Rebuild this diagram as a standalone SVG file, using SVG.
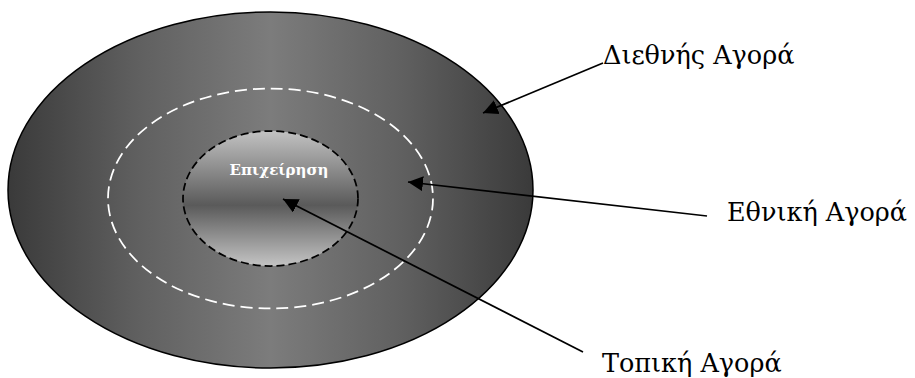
<svg xmlns="http://www.w3.org/2000/svg" width="915" height="378" viewBox="0 0 915 378">
  <style>
    .label { font-family: "DejaVu Serif", "Liberation Serif", serif; font-size: 25.5px; fill: #000; }
    .core { font-family: "DejaVu Serif", "Liberation Serif", serif; font-size: 15px; font-weight: bold; fill: #fff; }
    .conn { stroke: #000; stroke-width: 1.75; fill: none; marker-end: url(#arrow); }
  </style>
  <defs>
    <linearGradient id="gOuter" x1="0" y1="0" x2="1" y2="0">
      <stop offset="0" stop-color="#3a3a3a"/>
      <stop offset="0.25" stop-color="#606060"/>
      <stop offset="0.5" stop-color="#7c7c7c"/>
      <stop offset="0.75" stop-color="#606060"/>
      <stop offset="1" stop-color="#3a3a3a"/>
    </linearGradient>
    <linearGradient id="gInner" x1="0" y1="0" x2="0" y2="1">
      <stop offset="0" stop-color="#c2c2c2"/>
      <stop offset="0.55" stop-color="#5a5a5a"/>
      <stop offset="1" stop-color="#c4c4c4"/>
    </linearGradient>
    <marker id="arrow" markerUnits="userSpaceOnUse" markerWidth="16" markerHeight="16" refX="15" refY="7.5" orient="auto">
      <path d="M0,0 L15,7.5 L0,15 z" fill="#000"/>
    </marker>
  </defs>

  <g id="international-market">
    <ellipse cx="270.5" cy="190" rx="262.5" ry="178" fill="url(#gOuter)" stroke="#000" stroke-width="1.5"/>
  </g>
  <g id="national-market">
    <ellipse cx="270.5" cy="198.5" rx="162.5" ry="110" fill="none" stroke="#fff" stroke-width="1.75" stroke-dasharray="12 6"/>
  </g>
  <g id="business">
    <ellipse cx="270.5" cy="198.5" rx="87.5" ry="67.5" fill="url(#gInner)" stroke="#000" stroke-width="1.75" stroke-dasharray="8 4"/>
    <text class="core" x="279" y="175" text-anchor="middle">Επιχείρηση</text>
  </g>

  <g id="label-international">
    <text class="label" x="603" y="64">Διεθνής Αγορά</text>
  </g>
  <g id="label-national">
    <text class="label" x="727" y="221">Εθνική Αγορά</text>
  </g>
  <g id="label-local">
    <text class="label" x="602" y="372">Τοπική Αγορά</text>
  </g>

  <g id="connectors">
    <line class="conn" x1="603" y1="63" x2="483" y2="113"/>
    <line class="conn" x1="707" y1="216" x2="408" y2="182"/>
    <line class="conn" x1="583" y1="352" x2="283" y2="199"/>
  </g>
</svg>
